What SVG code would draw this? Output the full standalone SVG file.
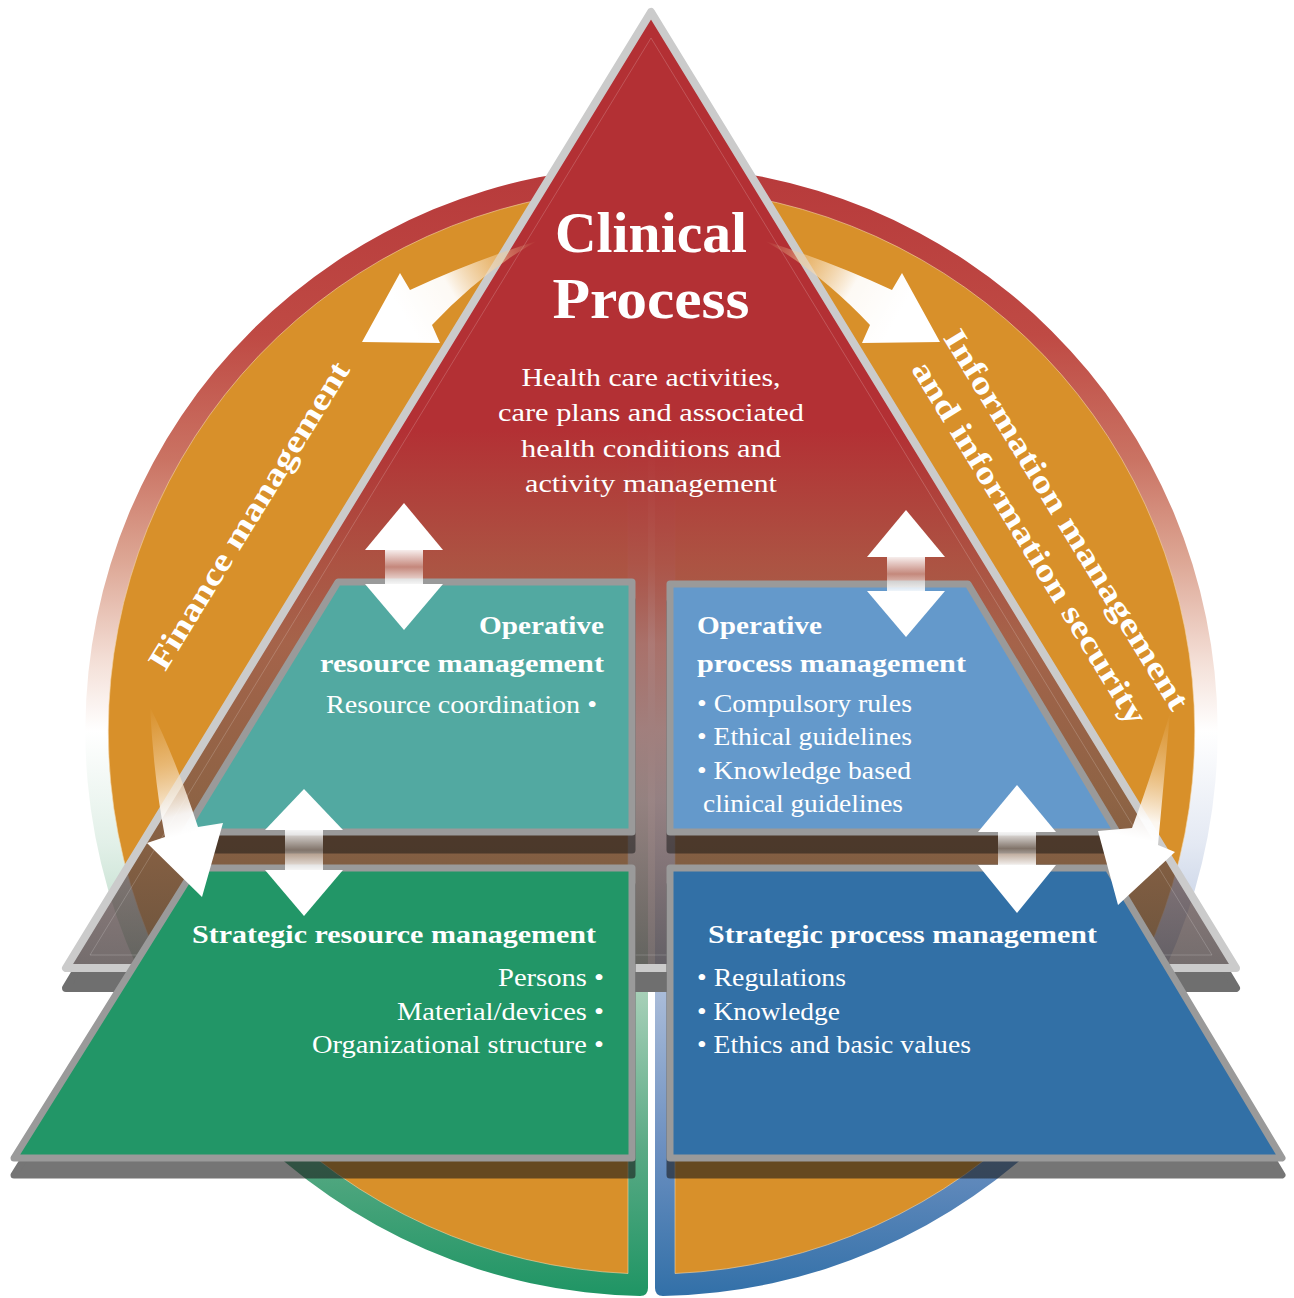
<svg xmlns="http://www.w3.org/2000/svg" width="1294" height="1298" viewBox="0 0 1294 1298">
<style>
.tx{font-family:"Liberation Serif","DejaVu Serif",serif;fill:#ffffff;}
.b{font-weight:bold;}
.trap{stroke:#9a9a9a;stroke-width:7;stroke-linejoin:round;}
.shadow{fill:#141414;stroke:#141414;stroke-width:7;stroke-linejoin:round;opacity:0.5;}
.shadow2{fill:#1a1a1a;stroke:#1a1a1a;stroke-width:7;stroke-linejoin:round;opacity:0.6;}
.wa{fill:#ffffff;}
.shaft{fill:url(#shaftG);}
</style>
<defs>
<linearGradient id="ringL" gradientUnits="userSpaceOnUse" x1="0" y1="166" x2="0" y2="1296">
<stop offset="0" stop-color="#b73a3b"/>
<stop offset="0.15" stop-color="#bf4a44"/>
<stop offset="0.26" stop-color="#ca7363"/>
<stop offset="0.35" stop-color="#dda795"/>
<stop offset="0.44" stop-color="#f4e0d8"/>
<stop offset="0.5" stop-color="#ffffff"/>
<stop offset="0.6" stop-color="#e2f0e8"/>
<stop offset="0.73" stop-color="#a7d0b8"/>
<stop offset="0.87" stop-color="#5aaa85"/>
<stop offset="1" stop-color="#1f9564"/>
</linearGradient>
<linearGradient id="ringR" gradientUnits="userSpaceOnUse" x1="0" y1="166" x2="0" y2="1296">
<stop offset="0" stop-color="#b73a3b"/>
<stop offset="0.15" stop-color="#bf4a44"/>
<stop offset="0.26" stop-color="#ca7363"/>
<stop offset="0.35" stop-color="#dda795"/>
<stop offset="0.44" stop-color="#f4e0d8"/>
<stop offset="0.5" stop-color="#ffffff"/>
<stop offset="0.6" stop-color="#e4e9f3"/>
<stop offset="0.73" stop-color="#aabcd9"/>
<stop offset="0.87" stop-color="#6b8fc0"/>
<stop offset="1" stop-color="#3270a8"/>
</linearGradient>
<linearGradient id="triFill" gradientUnits="userSpaceOnUse" x1="0" y1="12" x2="0" y2="975">
<stop offset="0" stop-color="#b33034"/>
<stop offset="0.434" stop-color="#b33034"/>
<stop offset="0.573" stop-color="#aa5044" stop-opacity="0.95"/>
<stop offset="0.656" stop-color="#985852" stop-opacity="0.8"/>
<stop offset="0.82" stop-color="#6e5050" stop-opacity="0.7"/>
<stop offset="1" stop-color="#4a4242" stop-opacity="0.78"/>
</linearGradient>
<linearGradient id="arrTop" gradientUnits="userSpaceOnUse" x1="405" y1="318" x2="537" y2="241">
<stop offset="0" stop-color="#ffffff"/>
<stop offset="0.35" stop-color="#ffffff" stop-opacity="0.95"/>
<stop offset="0.7" stop-color="#f3cf9c" stop-opacity="0.6"/>
<stop offset="1" stop-color="#f0c890" stop-opacity="0"/>
</linearGradient>
<linearGradient id="arrBL" gradientUnits="userSpaceOnUse" x1="150" y1="707" x2="182" y2="835">
<stop offset="0" stop-color="#f0c890" stop-opacity="0"/>
<stop offset="0.45" stop-color="#f3d2a4" stop-opacity="0.6"/>
<stop offset="0.85" stop-color="#ffffff" stop-opacity="0.92"/>
<stop offset="1" stop-color="#ffffff"/>
</linearGradient>
<linearGradient id="arrBR" gradientUnits="userSpaceOnUse" x1="1170" y1="713" x2="1145" y2="840">
<stop offset="0" stop-color="#f0c890" stop-opacity="0"/>
<stop offset="0.45" stop-color="#f3d2a4" stop-opacity="0.6"/>
<stop offset="0.85" stop-color="#ffffff" stop-opacity="0.92"/>
<stop offset="1" stop-color="#ffffff"/>
</linearGradient>
<linearGradient id="shaftG" x1="0" y1="0" x2="0" y2="1">
<stop offset="0" stop-color="#ffffff" stop-opacity="0.9"/>
<stop offset="0.5" stop-color="#ffffff" stop-opacity="0.3"/>
<stop offset="1" stop-color="#ffffff" stop-opacity="0.9"/>
</linearGradient>
</defs>

<g id="circle">
<path d="M 648 166 A 565 565 0 0 0 640 1295.9 Q 648 1296 648 1288 Z" fill="url(#ringL)"/>
<path d="M 655 166 A 565 565 0 0 1 663 1295.9 Q 655 1296 655 1288 Z" fill="url(#ringR)"/>
<path d="M 628 188.5 A 543 543 0 0 0 628 1273.5 Z" fill="#d8902a" stroke="#f3d5a8" stroke-opacity="0.6" stroke-width="1"/>
<path d="M 675 188.5 A 543 543 0 0 1 675 1273.5 Z" fill="#d8902a" stroke="#f3d5a8" stroke-opacity="0.6" stroke-width="1"/>
</g>

<g id="triangle">
<polygon points="78,968 1224,968 1236,988 66,988" fill="#6f6f6f" stroke="#6f6f6f" stroke-width="8" stroke-linejoin="round"/>
<polygon points="651,12 66,968 1236,968" fill="url(#triFill)" stroke="#cbcbcb" stroke-width="8" stroke-linejoin="round"/>
<polygon points="651,38 90,955 1212,955" fill="none" stroke="#ffffff" stroke-opacity="0.18" stroke-width="1"/>
</g>

<g id="node-clinical">
<text class="tx b" x="651" y="252" font-size="58" text-anchor="middle" textLength="192" lengthAdjust="spacingAndGlyphs">Clinical</text>
<text class="tx b" x="651" y="318" font-size="58" text-anchor="middle" textLength="197" lengthAdjust="spacingAndGlyphs">Process</text>
<text class="tx" x="651" y="386" font-size="25" text-anchor="middle" textLength="259" lengthAdjust="spacingAndGlyphs">Health care activities,</text>
<text class="tx" x="651" y="421" font-size="25" text-anchor="middle" textLength="306" lengthAdjust="spacingAndGlyphs">care plans and associated</text>
<text class="tx" x="651" y="457" font-size="25" text-anchor="middle" textLength="260" lengthAdjust="spacingAndGlyphs">health conditions and</text>
<text class="tx" x="651" y="492" font-size="25" text-anchor="middle" textLength="252" lengthAdjust="spacingAndGlyphs">activity management</text>
</g>

<g id="shadows">
<polygon class="shadow" points="338,600 632,600 632,850 185,850"/>
<polygon class="shadow" points="670,602 968,602 1117,850 670,850"/>
<polygon class="shadow2" points="195,885 632,885 632,1175 14,1175"/>
<polygon class="shadow2" points="670,885 1108,885 1282,1175 670,1175"/>
</g>

<g id="node-op-resource">
<polygon class="trap" points="338,582 632,582 632,832 185,832" fill="#52a9a1"/>
<text class="tx b" x="604" y="634" font-size="26" text-anchor="end" textLength="125" lengthAdjust="spacingAndGlyphs">Operative</text>
<text class="tx b" x="604" y="672" font-size="26" text-anchor="end" textLength="284" lengthAdjust="spacingAndGlyphs">resource management</text>
<text class="tx" x="597" y="713" font-size="25" text-anchor="end" textLength="271" lengthAdjust="spacingAndGlyphs">Resource coordination •</text>
</g>

<g id="node-op-process">
<polygon class="trap" points="670,584 968,584 1117,832 670,832" fill="#6499cb"/>
<text class="tx b" x="697" y="634" font-size="26" textLength="125" lengthAdjust="spacingAndGlyphs">Operative</text>
<text class="tx b" x="697" y="672" font-size="26" textLength="269" lengthAdjust="spacingAndGlyphs">process management</text>
<text class="tx" x="697" y="712" font-size="25" textLength="215" lengthAdjust="spacingAndGlyphs">• Compulsory rules</text>
<text class="tx" x="697" y="745" font-size="25" textLength="215" lengthAdjust="spacingAndGlyphs">• Ethical guidelines</text>
<text class="tx" x="697" y="779" font-size="25" textLength="214" lengthAdjust="spacingAndGlyphs">• Knowledge based</text>
<text class="tx" x="703" y="812" font-size="25" textLength="200" lengthAdjust="spacingAndGlyphs">clinical guidelines</text>
</g>

<g id="node-st-resource">
<polygon class="trap" points="195,868 632,868 632,1158 14,1158" fill="#229667"/>
<text class="tx b" x="192" y="943" font-size="26" textLength="404" lengthAdjust="spacingAndGlyphs">Strategic resource management</text>
<text class="tx" x="604" y="986" font-size="25" text-anchor="end" textLength="106" lengthAdjust="spacingAndGlyphs">Persons •</text>
<text class="tx" x="604" y="1020" font-size="25" text-anchor="end" textLength="207" lengthAdjust="spacingAndGlyphs">Material/devices •</text>
<text class="tx" x="604" y="1053" font-size="25" text-anchor="end" textLength="292" lengthAdjust="spacingAndGlyphs">Organizational structure •</text>
</g>

<g id="node-st-process">
<polygon class="trap" points="670,868 1108,868 1282,1158 670,1158" fill="#3270a6"/>
<text class="tx b" x="708" y="943" font-size="26" textLength="389" lengthAdjust="spacingAndGlyphs">Strategic process management</text>
<text class="tx" x="697" y="986" font-size="25" textLength="149" lengthAdjust="spacingAndGlyphs">• Regulations</text>
<text class="tx" x="697" y="1020" font-size="25" textLength="143" lengthAdjust="spacingAndGlyphs">• Knowledge</text>
<text class="tx" x="697" y="1053" font-size="25" textLength="274" lengthAdjust="spacingAndGlyphs">• Ethics and basic values</text>
</g>

<g id="label-finance">
<text class="tx b" transform="translate(258,521) rotate(-58.5)" font-size="32" text-anchor="middle" textLength="355" lengthAdjust="spacingAndGlyphs">Finance management</text>
</g>

<g id="label-information">
<text class="tx b" transform="translate(1057.5,525) rotate(58.5)" font-size="32" text-anchor="middle" textLength="440" lengthAdjust="spacingAndGlyphs">Information management</text>
<text class="tx b" transform="translate(1020.5,548) rotate(58.5)" font-size="32" text-anchor="middle" textLength="420" lengthAdjust="spacingAndGlyphs">and information security</text>
</g>

<g id="connectors">
<path d="M 537 241 Q 470 262 410 290 L 400 273 L 362 342 L 440 343 L 432 325 Q 482 272 537 241 Z" fill="url(#arrTop)"/>
<path transform="translate(1302,0) scale(-1,1)" d="M 537 241 Q 470 262 410 290 L 400 273 L 362 342 L 440 343 L 432 325 Q 482 272 537 241 Z" fill="url(#arrTop)"/>
<path d="M 150 707 Q 154 780 165 837 L 147 843 L 202 897 L 223 823 L 198 827 Q 176 760 150 707 Z" fill="url(#arrBL)"/>
<path d="M 1170 713 Q 1150 780 1132 828 L 1098 831 L 1118 905 L 1175 852 L 1158 845 Q 1164 780 1170 713 Z" fill="url(#arrBR)"/>

<polygon class="wa" points="404,503 365,550 443,550"/>
<rect class="shaft" x="385" y="550" width="38" height="34"/>
<polygon class="wa" points="365,584 443,584 404,630"/>

<polygon class="wa" points="906,510 867,557 945,557"/>
<rect class="shaft" x="887" y="557" width="38" height="34"/>
<polygon class="wa" points="867,591 945,591 906,637"/>

<polygon class="wa" points="304,789 265,830 343,830"/>
<rect class="shaft" x="285" y="830" width="38" height="40"/>
<polygon class="wa" points="265,870 343,870 304,916"/>

<polygon class="wa" points="1017,785 978,832 1056,832"/>
<rect class="shaft" x="998" y="832" width="38" height="33"/>
<polygon class="wa" points="978,865 1056,865 1017,913"/>
</g>
</svg>
